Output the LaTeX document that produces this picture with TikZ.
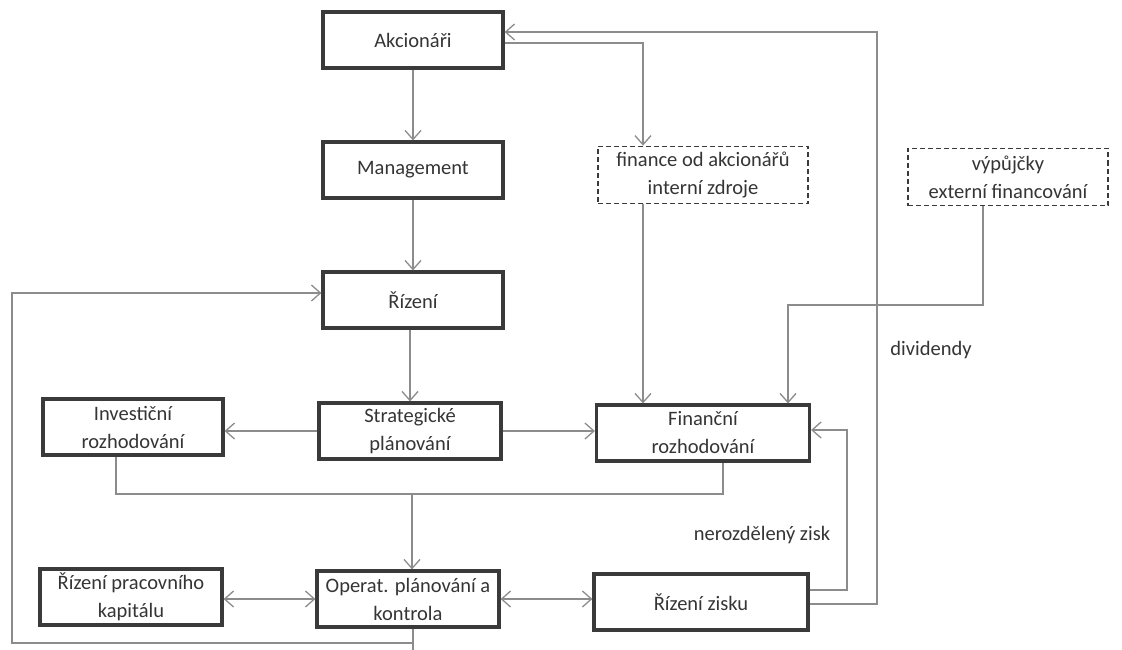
\documentclass[tikz,border=0pt]{standalone}
\usepackage{fontspec}
\setmainfont{Carlito}
\usetikzlibrary{arrows.meta}
\definecolor{boxline}{HTML}{3A3A3A}
\definecolor{connline}{HTML}{8C8C8C}
\definecolor{txt}{HTML}{353535}
\begin{document}
\begin{tikzpicture}[x=1pt,y=-1pt,
  every node/.style={text=txt,font=\fontsize{20.5}{28}\selectfont,align=center,inner sep=0pt},
  blok/.style={draw=boxline,line width=3.2pt,fill=white,minimum width=#1,minimum height=56pt},
  blok/.default=180pt,
  zdroj/.style={draw=boxline,line width=1.8pt,dash pattern=on 5pt off 3pt,fill=white,minimum width=#1,minimum height=57pt},
  conn/.style={draw=connline,line width=1.4pt},
  tip/.style={conn,-{Straight Barb[length=9pt,width=16pt,line width=1.3pt]}},
  dtip/.style={conn,{Straight Barb[length=9pt,width=16pt,line width=1.3pt]}-{Straight Barb[length=9pt,width=16pt,line width=1.3pt]}}
]
\useasboundingbox[fill=white] (0,0) rectangle (1122,650);

% boxes
\node[blok] (ak)  at (413,40)  {Akcionáři};
\node[blok] (mg)  at (413,170) {Management};
\node[blok] (rz)  at (413,300) {Řízení};
\node[blok=182pt] (st)  at (410,431) {Strategické\\plánování};
\node[blok] (inv) at (133,427) {Investiční\\rozhodování};
\node[blok=213pt] (fin) at (703,433) {Finanční\\rozhodování};
\node[zdroj=210pt] (fa) at (703,175) {finance od akcionářů\\interní zdroje};
\node[zdroj=200pt] (vy) at (1008,177) {výpůjčky\\externí financování};
\node[blok=182pt] (wc)  at (131,597) {Řízení pracovního\\kapitálu};
\node[blok=182pt] (op)  at (408,599) {Operat. plánování a\\kontrola};
\node[blok=214pt] (zi)  at (701,602) {Řízení zisku};

% labels of the flows
\node (ldiv) at (931,350) {dividendy};
\node (lnz)  at (762,535) {nerozdělený zisk};

% main vertical chain
\draw[tip] (ak.south) -- (mg.north);
\draw[tip] (mg.south) -- (rz.north);
\draw[tip] (rz.south -| st.north) -- (st.north);

% shareholders' funds
\draw[tip] (ak.east |- 0,43) -| (fa.north -| 643,0);
\draw[tip] (fa.south -| 643,0) -- (fin.north -| 643,0);

% borrowed funds
\draw[tip] (vy.south -| 983,0) -- (983,305) -| (fin.north -| 788,0);

% strategic planning outputs
\draw[tip] (st.west) -- (inv.east |- st.west);
\draw[tip] (st.east) -- (fin.west |- st.east);

% investment and financing decisions feed operations
\coordinate (mj) at (412,494);
\draw[conn] (inv.south -| 116,0) |- (723,494) -- (fin.south -| 723,0);
\draw[tip] (mj) -- (op.north -| mj);

% operations
\draw[dtip] (wc.east |- op.west) -- (op.west);
\draw[dtip] (op.east) -- (zi.west |- op.east);

% retained earnings and dividends
\draw[tip] (zi.east |- 0,590) -| (847,430) -- (fin.east |- 0,430);
\draw[tip] (zi.east |- 0,604) -| (877,32) -- (ak.east |- 0,32);

% feedback loop to control
\coordinate (lb) at (413,643);
\draw[conn] (op.south -| lb) -- (413,650);
\draw[tip] (lb) -| (12,293) -- (rz.west |- 0,293);
\end{tikzpicture}
\end{document}
